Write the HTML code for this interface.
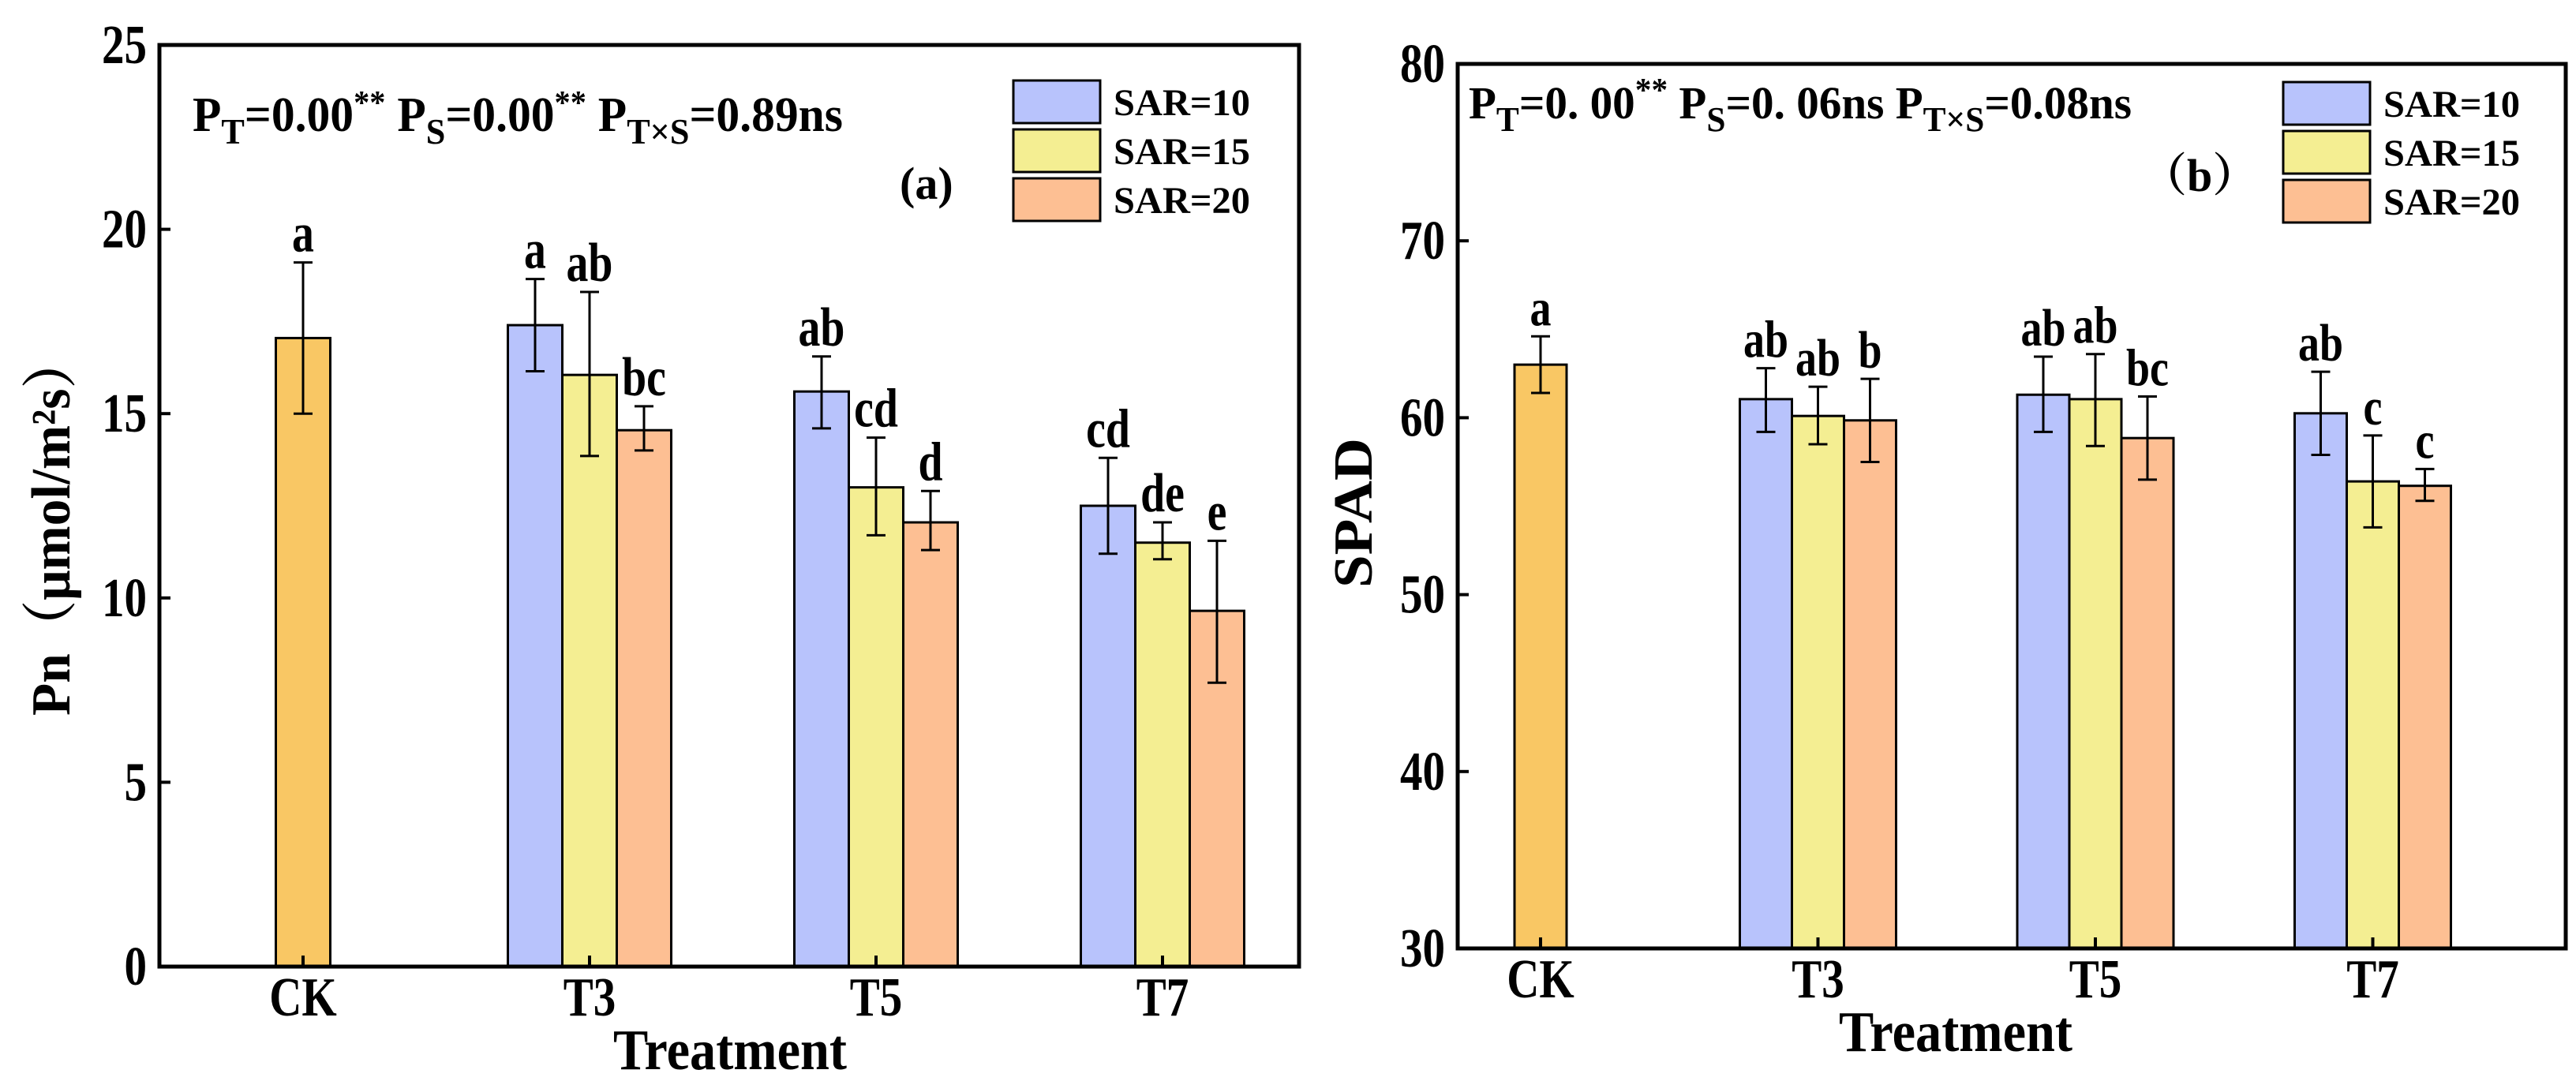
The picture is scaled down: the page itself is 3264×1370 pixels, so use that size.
<!DOCTYPE html>
<html><head><meta charset="utf-8"><style>
html,body{margin:0;padding:0;background:#fff;}
svg{display:block;font-family:"Liberation Serif","Noto Serif CJK SC",serif;font-weight:bold;}
</style></head><body>
<svg id="chart" width="3264" height="1370" viewBox="0 0 3264 1370" xmlns="http://www.w3.org/2000/svg"></svg>
<script>
const categories = ["CK","T3","T5","T7"];
const seriesNames = ["SAR=10","SAR=15","SAR=20"];
const pnCK = [17.05, 15.0, 19.1];
const pnSAR10 = [null, 17.4, 15.6, 12.5];
const pnSAR15 = [null, 16.05, 13.0, 11.5];
const pnSAR20 = [null, 14.55, 12.05, 9.65];
const pnErrLo10 = [null, 16.15, 14.6, 11.2];
const pnErrHi10 = [null, 18.65, 16.55, 13.8];
const pnErrLo15 = [null, 13.85, 11.7, 11.05];
const pnErrHi15 = [null, 18.3, 14.35, 12.05];
const pnErrLo20 = [null, 14.0, 11.3, 7.7];
const pnErrHi20 = [null, 15.2, 12.9, 11.55];
const pnLetters10 = [null, "a", "ab", "cd"];
const pnLetters15 = [null, "ab", "cd", "de"];
const pnLetters20 = [null, "bc", "d", "e"];
const pnTicks = [0,5,10,15,20,25];
const spadCK = [63.0, 61.4, 64.6];
const spadSAR10 = [null, 61.05, 61.3, 60.25];
const spadSAR15 = [null, 60.1, 61.05, 56.4];
const spadSAR20 = [null, 59.85, 58.85, 56.15];
const spadErrLo10 = [null, 59.2, 59.2, 57.9];
const spadErrHi10 = [null, 62.8, 63.45, 62.6];
const spadErrLo15 = [null, 58.5, 58.4, 53.8];
const spadErrHi15 = [null, 61.75, 63.6, 59.0];
const spadErrLo20 = [null, 57.5, 56.5, 55.3];
const spadErrHi20 = [null, 62.2, 61.2, 57.1];
const spadLetters10 = [null, "ab", "ab", "ab"];
const spadLetters15 = [null, "ab", "ab", "c"];
const spadLetters20 = [null, "b", "bc", "c"];
const spadTicks = [30,40,50,60,70,80];

const NS="http://www.w3.org/2000/svg";
const svg=document.getElementById('chart');
const colors=["#b8c3fc","#f4ee92","#fdbf93"];
const ckColor="#f9c764";
function mk(tag,attrs,parent){const e=document.createElementNS(NS,tag);for(const k in attrs)e.setAttribute(k,attrs[k]);(parent||svg).appendChild(e);return e;}

function panel(cfg){
  const g=mk('g',{});
  
  
  const y=v=>cfg.y0-(v-cfg.ymin)/(cfg.ymax-cfg.ymin)*(cfg.y0-cfg.y1);
  const x=i=>cfg.cx0+i*cfg.step;
  const bw=cfg.bw;
  function errbar(cx,lo,hi){
    const e=mk('path',{d:`M${cx-12},${y(hi)}H${cx+12}M${cx},${y(hi)}V${y(lo)}M${cx-12},${y(lo)}H${cx+12}`,stroke:'#000','stroke-width':3,fill:'none'},g);
    
    
  }
  function letter(cx,hi,t){
    const l=mk('text',{x:0,y:0,'text-anchor':'middle','font-size':cfg.lfs,transform:`translate(${cx},${y(hi)-14}) scale(0.9,1.12)`},g);l.textContent=t;
    
    
  }
  const ck=mk('rect',{x:x(0)-bw/2,y:y(cfg.ck[0]),width:bw,height:y(cfg.ymin)-y(cfg.ck[0]),fill:ckColor,stroke:'#000','stroke-width':3},g);
  
  
  errbar(x(0),cfg.ck[1],cfg.ck[2]);
  letter(x(0),cfg.ck[2],'a');
  for(let s=0;s<3;s++){
    for(let i=1;i<categories.length;i++){
      const v=cfg.vals[s][i];
      const cx=x(i)+(s-1)*bw;
      const r=mk('rect',{x:cx-bw/2,y:y(v),width:bw,height:y(cfg.ymin)-y(v),fill:colors[s],stroke:'#000','stroke-width':3},g);
      
      
      errbar(cx,cfg.lo[s][i],cfg.hi[s][i]);
      letter(cx,cfg.hi[s][i],cfg.let[s][i]);
    }
  }
  const fr=mk('rect',{x:cfg.xl,y:cfg.y1,width:cfg.xr-cfg.xl,height:cfg.y0-cfg.y1,fill:'none',stroke:'#000','stroke-width':5},g);
  
  
  cfg.ticks.forEach(t=>{
    const tk=mk('line',{x1:cfg.xl,x2:cfg.xl+14,y1:y(t),y2:y(t),stroke:'#000','stroke-width':4},g);
    
    
    const tl=mk('text',{x:0,y:0,'text-anchor':'end','font-size':62,transform:`translate(${cfg.xl-16},${y(t)+23}) scale(0.92,1.12)`},g);tl.textContent=t;
    
    
  });
  categories.forEach((c,i)=>{
    const tk=mk('line',{x1:x(i),x2:x(i),y1:cfg.y0,y2:cfg.y0-14,stroke:'#000','stroke-width':4},g);
    
    
    const tl=mk('text',{x:0,y:0,'text-anchor':'middle','font-size':62,transform:`translate(${x(i)},${cfg.y0+62}) scale(0.92,1.12)`},g);tl.textContent=c;
    
    
  });
  const xt=mk('text',{x:0,y:0,'text-anchor':'middle','font-size':66,textLength:296,lengthAdjust:'spacingAndGlyphs',transform:`translate(${cfg.xtX},${cfg.xtY}) scale(1,1.1)`},g);xt.textContent='Treatment';
  
  
  const yt=mk('text',{x:0,y:0,'text-anchor':'middle','font-size':cfg.ytFs,transform:`translate(${cfg.ytX},${cfg.ytY}) rotate(-90)`,textLength:cfg.ytLen,lengthAdjust:'spacingAndGlyphs'},g);yt.textContent=cfg.ytitle;
  
  
  for(let s=0;s<3;s++){
    const ly=cfg.legY+s*62;
    const lr=mk('rect',{x:cfg.legX,y:ly,width:110,height:54,fill:colors[s],stroke:'#000','stroke-width':3},g);
    
    
    const lt=mk('text',{x:cfg.legX+127,y:ly+44,'font-size':48,textLength:173,lengthAdjust:'spacingAndGlyphs'},g);lt.textContent=seriesNames[s];
    
    
  }
  const pt=mk('text',{x:cfg.pX,y:cfg.pY,'font-size':cfg.pfs,textLength:cfg.pLen,lengthAdjust:'spacingAndGlyphs'},g);
  pt.innerHTML=cfg.pHTML;
  
  
  const pl=mk('text',{x:cfg.labX,y:cfg.labY,'font-size':58},g);pl.textContent=cfg.lab;
  
  
}

panel({name:'panel-a',xl:202,xr:1646,y0:1225,y1:57,ymin:0,ymax:25,cx0:384,step:363,bw:69,lfs:62,
  ck:pnCK,vals:[pnSAR10,pnSAR15,pnSAR20],lo:[pnErrLo10,pnErrLo15,pnErrLo20],hi:[pnErrHi10,pnErrHi15,pnErrHi20],
  let:[pnLetters10,pnLetters15,pnLetters20],ticks:pnTicks,xtX:925,xtY:1355,ytX:88,ytY:666,ytLen:482,ytFs:70,ytitle:'Pn（μmol/m²s）',
  legX:1284,legY:102,pX:244,pY:166,pfs:62,pLen:824,
  pHTML:'P<tspan dy="16" font-size="46">T</tspan><tspan dy="-16">=0.00</tspan><tspan dy="-22" font-size="42">**</tspan><tspan dy="22"> P</tspan><tspan dy="16" font-size="46">S</tspan><tspan dy="-16">=0.00</tspan><tspan dy="-22" font-size="42">**</tspan><tspan dy="22"> P</tspan><tspan dy="16" font-size="46">T×S</tspan><tspan dy="-16">=0.89ns</tspan>',
  labX:1140,labY:252,lab:'(a)'});
panel({name:'panel-b',xl:1847,xr:3251,y0:1202,y1:81,ymin:30,ymax:80,cx0:1952,step:351.5,bw:66,lfs:60,
  ck:spadCK,vals:[spadSAR10,spadSAR15,spadSAR20],lo:[spadErrLo10,spadErrLo15,spadErrLo20],hi:[spadErrHi10,spadErrHi15,spadErrHi20],
  let:[spadLetters10,spadLetters15,spadLetters20],ticks:spadTicks,xtX:2478,xtY:1332,ytX:1738,ytY:650,ytLen:190,ytFs:70,ytitle:'SPAD',
  legX:2893,legY:104,pX:1861,pY:150,pfs:58,pLen:840,
  pHTML:'P<tspan dy="16" font-size="44">T</tspan><tspan dy="-16">=0. 00</tspan><tspan dy="-22" font-size="42">**</tspan><tspan dy="22"> P</tspan><tspan dy="16" font-size="44">S</tspan><tspan dy="-16">=0. 06ns P</tspan><tspan dy="16" font-size="44">T×S</tspan><tspan dy="-16">=0.08ns</tspan>',
  labX:2713,labY:242,lab:'（b）'});
</script>
</body></html>
